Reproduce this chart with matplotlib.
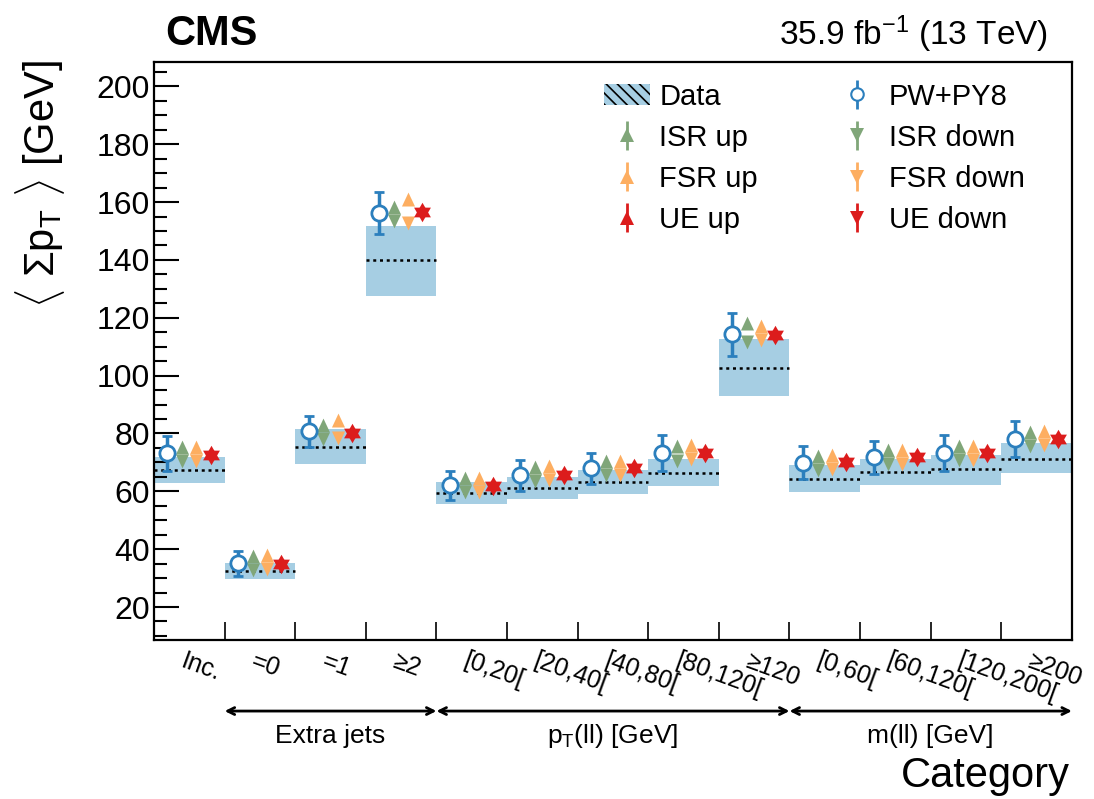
import matplotlib
matplotlib.use("Agg")
import matplotlib.pyplot as plt
from matplotlib.patches import Patch
from matplotlib.ticker import MultipleLocator

plt.rcParams["font.family"] = ["Liberation Sans", "DejaVu Sans"]
plt.rcParams["mathtext.fontset"] = "custom"
plt.rcParams["mathtext.rm"] = "Liberation Sans"
plt.rcParams["mathtext.it"] = "Liberation Sans:italic"
plt.rcParams["hatch.linewidth"] = 1.2

# Categorias y valores
categorias = ["Inc.", "=0", "=1", "≥2", "[0,20[", "[20,40[", "[40,80[",
              "[80,120[", "≥120", "[0,60[", "[60,120[", "[120,200[", "≥200"]

datos = [67.3, 32.3, 75.4, 139.8, 59.5, 61.0, 63.2, 66.5, 102.6, 64.2, 66.6, 67.6, 71.1]
datos_bajo = [63.0, 29.6, 69.3, 127.5, 55.5, 57.2, 59.0, 61.7, 92.9, 59.6, 62.3, 62.3, 66.2]
datos_alto = [71.7, 35.1, 81.4, 151.6, 63.2, 64.9, 67.4, 71.0, 112.7, 69.0, 71.0, 72.6, 76.7]

pw_py8 = [73.1, 35.1, 80.8, 156.3, 62.1, 65.5, 67.9, 73.1, 114.3, 69.9, 71.7, 73.2, 78.1]
pw_err = [6.0, 4.4, 5.4, 7.2, 5.0, 5.3, 5.5, 6.2, 7.5, 5.8, 5.7, 6.2, 6.3]

isr_up = [73.0, 35.1, 80.6, 156.0, 62.2, 65.9, 68.1, 73.2, 115.7, 69.9, 71.9, 73.2, 78.2]
isr_down = [73.0, 35.1, 80.6, 156.0, 62.2, 65.9, 68.1, 73.0, 114.2, 69.9, 71.9, 73.2, 78.2]
fsr_up = [73.0, 35.4, 82.3, 158.6, 62.2, 66.2, 67.9, 73.7, 114.9, 70.2, 71.9, 73.4, 78.6]
fsr_down = [73.0, 35.4, 81.0, 155.1, 62.2, 66.2, 67.9, 73.7, 114.9, 70.2, 71.9, 73.4, 78.6]
ue_up = [72.6, 34.9, 80.2, 156.4, 61.9, 65.5, 67.9, 73.3, 114.2, 70.1, 71.7, 73.1, 78.0]
ue_down = [72.6, 34.9, 80.2, 156.4, 61.9, 65.5, 67.9, 73.3, 114.2, 70.1, 71.7, 73.1, 78.0]

grupos = [("Extra jets", 1, 4), (r"p$_{\mathrm{T}}$(ll) [GeV]", 4, 9), ("m(ll) [GeV]", 9, 13)]

# Colores
c_banda = "#a6cee3"
c_pw = "#2b7fbd"
c_isr = "#80a679"
c_fsr = "#fdae61"
c_ue = "#dc1c1c"

# Marcadores
tri_up_base = [(-0.47, 0), (0.47, 0), (0, 1)]
tri_down_base = [(-0.47, 0), (0.47, 0), (0, -1)]
tri_up_c = [(0, 1), (-0.866, -0.5), (0.866, -0.5)]
tri_down_c = [(0, -1), (-0.866, 0.5), (0.866, 0.5)]

n = len(categorias)
izq = list(range(n))

fig = plt.figure(figsize=(10.94, 7.99), dpi=100)
ax = fig.add_axes([0.1408, 0.199, 0.839, 0.723])

# Banda de datos
alturas = [a - b for a, b in zip(datos_alto, datos_bajo)]
ax.bar(izq, alturas, bottom=datos_bajo, width=1, align="edge", color=c_banda, zorder=1)
ax.hlines(datos, [i for i in izq], [i + 1 for i in izq], colors="black",
          linestyles=(0, (1.2, 1.5)), linewidth=1.8, zorder=2)

# Simulaciones
x_pw = [i + 0.19 for i in izq]
x_isr = [i + 0.40 for i in izq]
x_fsr = [i + 0.60 for i in izq]
x_ue = [i + 0.80 for i in izq]

ax.errorbar(x_pw, pw_py8, yerr=pw_err, fmt="o", color=c_pw, mfc="white", mec=c_pw,
            markersize=11, mew=2, elinewidth=2.5, capsize=3.5, capthick=2.5, zorder=5)
ax.plot(x_isr, isr_up, linestyle="none", marker=tri_up_base, markersize=20, color=c_isr, mew=0, zorder=4)
ax.plot(x_isr, isr_down, linestyle="none", marker=tri_down_base, markersize=20, color=c_isr, mew=0, zorder=4)
ax.plot(x_fsr, fsr_up, linestyle="none", marker=tri_up_base, markersize=20, color=c_fsr, mew=0, zorder=4)
ax.plot(x_fsr, fsr_down, linestyle="none", marker=tri_down_base, markersize=20, color=c_fsr, mew=0, zorder=4)
ax.plot(x_ue, ue_up, linestyle="none", marker=tri_up_c, markersize=14, color=c_ue, mew=0, zorder=4)
ax.plot(x_ue, ue_down, linestyle="none", marker=tri_down_c, markersize=14, color=c_ue, mew=0, zorder=4)

# Ejes
ax.set_xlim(0, n)
ax.set_ylim(8.6, 208.3)
ax.yaxis.set_major_locator(MultipleLocator(20))
ax.yaxis.set_minor_locator(MultipleLocator(5))
ax.set_yticks(range(20, 201, 20))
ax.set_xticks(range(0, n + 1))
ax.set_xticklabels([])
ax.tick_params(axis="x", which="major", direction="in", length=13, width=1.2, top=False)
ax.tick_params(axis="y", which="major", direction="in", length=18, width=1.5,
               labelsize=23, pad=3, right=False)
ax.tick_params(axis="y", which="minor", direction="in", length=9, width=1.5, right=False)
for s in ax.spines.values():
    s.set_linewidth(1.6)

for i, lab in enumerate(categorias):
    ax.text(i + 0.45, -0.015, lab, transform=ax.get_xaxis_transform(), ha="left", va="top",
            rotation=-20, rotation_mode="anchor", fontsize=18)

# Flechas de grupos
for nombre, a, b in grupos:
    ax.annotate("", xy=(a, -0.123), xytext=(b, -0.123), xycoords=ax.get_xaxis_transform(),
                arrowprops=dict(arrowstyle="<->,head_length=0.5,head_width=0.25", lw=2, color="black",
                                shrinkA=0, shrinkB=0), annotation_clip=False)
    ax.text((a + b) / 2, -0.166, nombre, transform=ax.get_xaxis_transform(),
            ha="center", va="center", fontsize=19)

ax.text(0.998, -0.254, "Category", transform=ax.transAxes, ha="right", va="baseline", fontsize=30)
fig.text(0.037, 0.925, r"$\langle\ \Sigma\mathrm{p}_{\mathrm{T}}\ \rangle$ [GeV]", rotation=90,
         ha="center", va="top", fontsize=30)

fig.text(0.151, 0.944, "CMS", fontsize=30, fontweight="bold", ha="left", va="baseline")
fig.text(0.958, 0.944, r"35.9 fb$^{-1}$ (13 TeV)", fontsize=24, ha="right", va="baseline")

# Leyenda
h_data = Patch(facecolor=c_banda, edgecolor="black", hatch="\\\\\\", linewidth=0, label="Data")
h_pw = ax.errorbar([], [], yerr=[], fmt="o", color=c_pw, mfc="white", mec=c_pw,
                   markersize=9, mew=1.5, elinewidth=2, label="PW+PY8")
h_isr_up = ax.errorbar([], [], yerr=[], fmt="^", color=c_isr, markersize=10, mew=0, elinewidth=2, label="ISR up")
h_isr_dn = ax.errorbar([], [], yerr=[], fmt="v", color=c_isr, markersize=10, mew=0, elinewidth=2, label="ISR down")
h_fsr_up = ax.errorbar([], [], yerr=[], fmt="^", color=c_fsr, markersize=10, mew=0, elinewidth=2, label="FSR up")
h_fsr_dn = ax.errorbar([], [], yerr=[], fmt="v", color=c_fsr, markersize=10, mew=0, elinewidth=2, label="FSR down")
h_ue_up = ax.errorbar([], [], yerr=[], fmt="^", color=c_ue, markersize=10, mew=0, elinewidth=2, label="UE up")
h_ue_dn = ax.errorbar([], [], yerr=[], fmt="v", color=c_ue, markersize=10, mew=0, elinewidth=2, label="UE down")

handles = [h_data, h_isr_up, h_fsr_up, h_ue_up, h_pw, h_isr_dn, h_fsr_dn, h_ue_dn]
ax.legend(handles=handles, ncol=2, loc="upper left", bbox_to_anchor=(0.49, 0.965),
          frameon=False, fontsize=21, handlelength=1.6, handletextpad=0.3,
          columnspacing=2.6, labelspacing=0.45, borderaxespad=0, borderpad=0)

plt.savefig("out.png", dpi=100)
